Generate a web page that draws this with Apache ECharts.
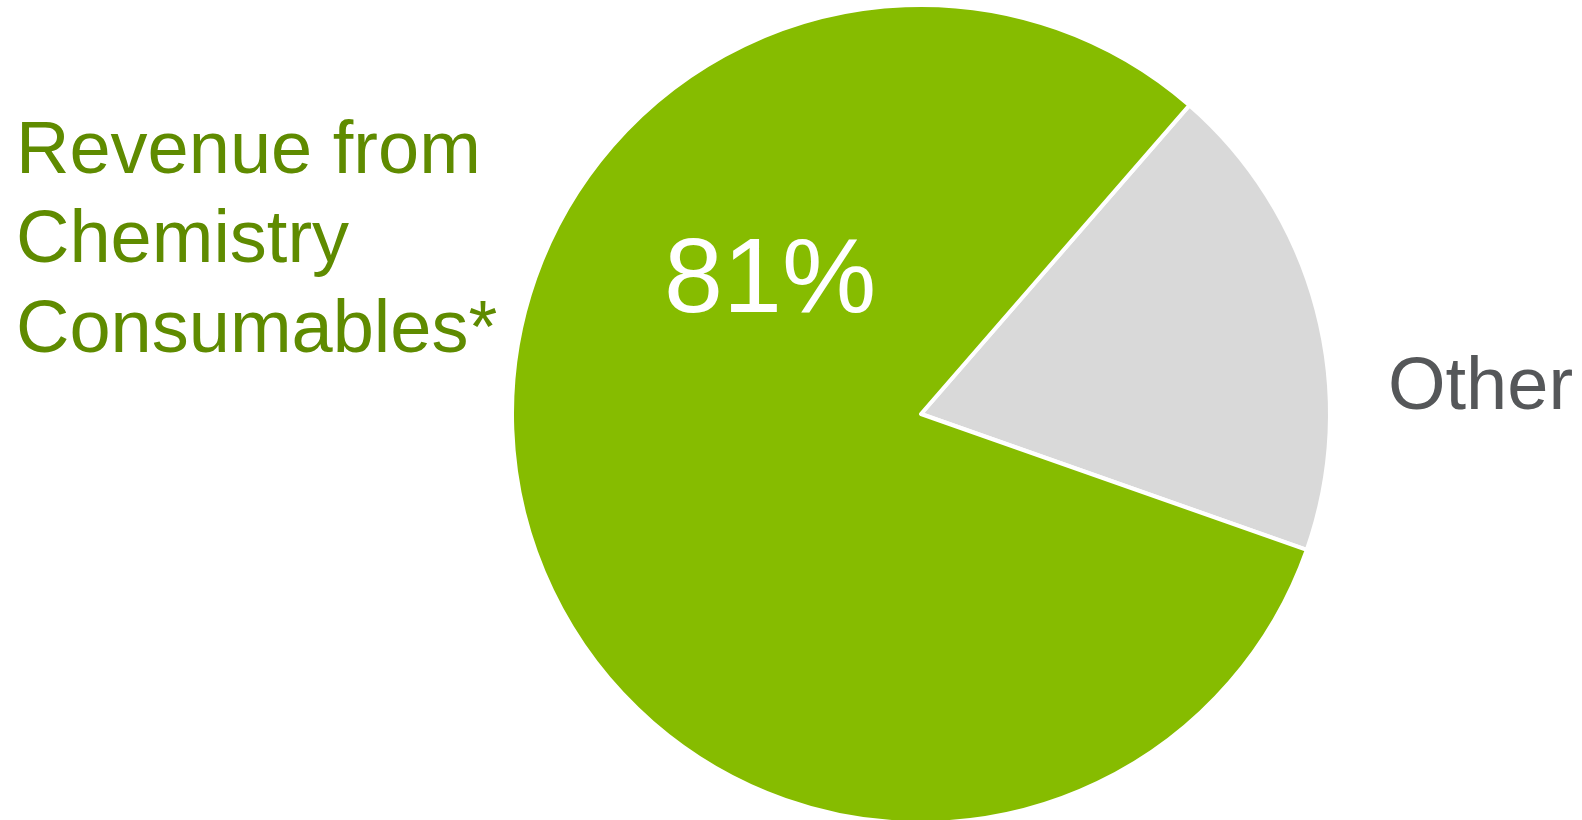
<!DOCTYPE html>
<html>
<head>
<meta charset="utf-8">
<script src="https://cdn.jsdelivr.net/npm/echarts@6/dist/echarts.min.js"></script>
<style>html,body{margin:0;padding:0;background:#fff;}#c{width:1582px;height:820px;}</style>
</head>
<body>
<div id="c"></div>
<script>
const categories = ['Other', 'Revenue from Chemistry Consumables*'];
const values = [19, 81];
const labelLines = [['Other'], ['Revenue from', 'Chemistry', 'Consumables*']];
const colors = ['#d9d9d9', '#86bc00'];

const chart = echarts.init(document.getElementById('c'));
const fam = 'Liberation Sans';
const total = values.reduce((a, b) => a + b, 0);

const graphics = [];
labelLines[1].forEach((t, i) => {
  graphics.push({ type: 'text', left: 16, top: 115.5 + i * 89.5, style: { text: t, fontFamily: fam, fontSize: 74, fill: '#5f8b00' } });
});
graphics.push({ type: 'text', left: 1388, top: 352, style: { text: labelLines[0][0], fontFamily: fam, fontSize: 74, fill: '#555759' } });
graphics.push({ type: 'text', left: 664, top: 230, z: 100, style: { text: Math.round(values[1] / total * 100) + '%', fontFamily: fam, fontSize: 106, fill: '#ffffff' } });

chart.setOption({
  animation: false,
  series: [{
    type: 'pie',
    center: [921, 414],
    radius: 409,
    startAngle: 49,
    clockwise: true,
    label: { show: false },
    labelLine: { show: false },
    emphasis: { disabled: true },
    itemStyle: { borderColor: '#ffffff', borderWidth: 4 },
    data: categories.map((c, i) => ({ name: c, value: values[i], itemStyle: { color: colors[i] } }))
  }],
  graphic: graphics
});
</script>
</body>
</html>
